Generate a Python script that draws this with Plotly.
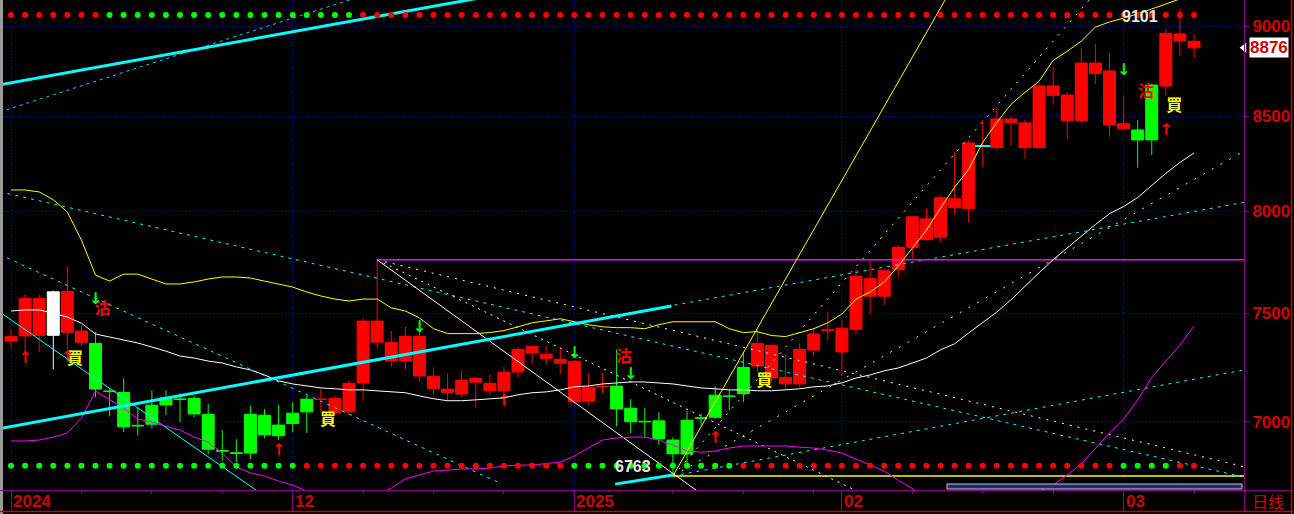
import math
import plotly.graph_objects as go

# ---------------- candles (daily) ----------------
IDX = list(range(85))
OPEN = [7368, 7392, 7395, 7395, 7409, 7362, 7357, 7138, 7131, 6984,
        7074, 7107, 7102, 7105, 7033, 6873, 6863, 7033, 7029, 6985,
        7038, 7101, 7099, 7040, 7044, 7174, 7363, 7275, 7275, 7206,
        7149, 7131, 7124, 7178, 7139, 7139, 7225, 7312, 7288, 7265,
        7089, 7092, 7157, 7160, 7060, 7002, 7004, 6919, 7007, 7017,
        7119, 7115, 7246, 7252, 7197, 7170, 7170, 7326, 7417, 7317,
        7423, 7581, 7581, 7710, 7820, 7858, 7870, 8019, 8014, 8338,
        8331, 8464, 8331, 8331, 8611, 8474, 8474, 8732, 8452, 8431,
        8425, 8669, 8664, 8915, 8876]
HIGH = [7423, 7589, 7589, 7608, 7726, 7438, 7410, 7151, 7196, 7065,
        7141, 7141, 7127, 7116, 7081, 6963, 6923, 7071, 7056, 7075,
        7089, 7116, 7146, 7116, 7187, 7475, 7758, 7415, 7436, 7428,
        7245, 7218, 7232, 7202, 7214, 7248, 7340, 7343, 7348, 7332,
        7280, 7219, 7219, 7329, 7101, 7060, 7043, 6932, 7047, 7036,
        7160, 7141, 7318, 7426, 7350, 7310, 7357, 7426, 7507, 7470,
        7710, 7754, 7715, 7830, 7980, 8014, 8080, 8310, 8368, 8479,
        8547, 8497, 8479, 8679, 8769, 8629, 8875, 8899, 8841, 8610,
        8479, 8675, 8981, 9101, 8954]
LOW = [7338, 7317, 7317, 7237, 7329, 7343, 7109, 7024, 6955, 6938,
       6971, 7031, 6999, 7020, 6857, 6829, 6823, 6836, 6927, 6920,
       6953, 6950, 7048, 7031, 7031, 7093, 7332, 7249, 7237, 7182,
       7124, 7091, 7112, 7064, 7120, 7080, 7199, 7260, 7260, 7214,
       7080, 7073, 7128, 6980, 6948, 6932, 6898, 6763, 6807, 6983,
       7011, 7052, 7088, 7225, 7176, 7149, 7155, 7296, 7372, 7206,
       7400, 7494, 7537, 7672, 7764, 7855, 7850, 7983, 7945, 8230,
       8315, 8341, 8273, 8326, 8560, 8377, 8461, 8675, 8389, 8425,
       8226, 8292, 8609, 8830, 8820]
CLOSE = [7390, 7570, 7570, 7602, 7603, 7415, 7147, 7136, 6977, 6982,
         6989, 7075, 7100, 7035, 6879, 6871, 6861, 6862, 6942, 6938,
         6992, 7044, 7101, 7105, 7173, 7462, 7462, 7362, 7390, 7390,
         7205, 7146, 7187, 7195, 7173, 7223, 7329, 7343, 7306, 7283,
         7274, 7155, 7159, 7057, 7000, 7000, 6924, 6859, 6858, 7016,
         7020, 7114, 7126, 7357, 7348, 7200, 7329, 7401, 7420, 7428,
         7677, 7666, 7705, 7820, 7973, 7963, 8070, 8065, 8356, 8342,
         8484, 8484, 8463, 8664, 8664, 8614, 8791, 8791, 8747, 8458,
         8372, 8372, 8958, 8955, 8913]
CANDLE_COLOR = ("RRRWRRGGGG" "GGGGGGGGGG" "GGRRRRRRRR" "RRRRRRRRRR" "RRRGGGGGGG"
                "GGGRRRRRRR" "RRRRRRRRRR" "RRRRRRRRRR" "GGRRR")
DOJI_MARK_IDX = [69]
DOJI_MARK_PRICE = [8340]

# ---------------- band indicator ----------------
BAND_UPPER = [8110, 8110, 8100, 8060, 7997, 7856, 7683, 7654, 7688, 7688,
              7664, 7640, 7640, 7650, 7664, 7674, 7674, 7669, 7654, 7640,
              7625, 7601, 7582, 7567, 7558, 7567, 7567, 7525, 7510, 7477,
              7426, 7403, 7403, 7403, 7408, 7417, 7435, 7454, 7463, 7473,
              7459, 7445, 7435, 7431, 7431, 7426, 7445, 7459, 7459, 7459,
              7459, 7426, 7408, 7412, 7394, 7389, 7408, 7426, 7454, 7496,
              7567, 7601, 7649, 7728, 7816, 7906, 8017, 8124, 8217, 8359,
              8466, 8563, 8629, 8690, 8806, 8857, 8914, 8994, 9023, 9046,
              9069, 9098, 9127, 9156, 9180]
BAND_MID = [7510, 7515, 7515, 7500, 7481, 7452, 7401, 7387, 7373, 7359,
            7340, 7321, 7298, 7289, 7275, 7266, 7248, 7234, 7211, 7184,
            7170, 7161, 7152, 7148, 7143, 7143, 7139, 7134, 7130, 7116,
            7103, 7094, 7094, 7098, 7103, 7107, 7121, 7130, 7134, 7143,
            7157, 7161, 7170, 7175, 7179, 7179, 7175, 7170, 7161, 7152,
            7148, 7143, 7143, 7139, 7139, 7143, 7148, 7157, 7161, 7175,
            7197, 7211, 7230, 7243, 7266, 7289, 7327, 7355, 7406, 7457,
            7505, 7563, 7631, 7695, 7759, 7818, 7873, 7934, 7989, 8025,
            8071, 8133, 8196, 8253, 8303]
BAND_LOWER = [6915, 6915, 6919, 6932, 6950, 7016, 7138, 7100, 7060, 7012,
              6998, 6980, 6963, 6932, 6910, 6862, 6801, 6776, 6763, 6741,
              6724, 6698, 6681, 6673, 6673, 6681, 6681, 6711, 6750, 6767,
              6784, 6788, 6793, 6793, 6797, 6806, 6810, 6810, 6815, 6823,
              6849, 6884, 6919, 6928, 6932, 6932, 6919, 6897, 6871, 6866,
              6871, 6884, 6893, 6893, 6893, 6893, 6888, 6884, 6875, 6862,
              6836, 6810, 6784, 6745, 6707, 6673, 6647, 6626, 6613, 6609,
              6617, 6634, 6668, 6698, 6724, 6767, 6815, 6880, 6950, 7011,
              7097, 7200, 7274, 7349, 7438]

# ---------------- signal rows ----------------
TOP_SIGNAL = ("RRRRRRRGGG" "GGGGGGGGGG" "GGGGGRRRRR" "RRRRRRRRRR" "RRRRRRRRRR"
              "RRRRRRRRRR" "RRRRRRRRRR" "RRRRRRRRRR" "RRRRR")
BOTTOM_SIGNAL = ("GGGGGGGGGG" "GGGGGGGGGG" "GRRRRRRRRR" "RRRRRRRRRR" "GGGGGGGGGG"
                 "GGRRRRRRRR" "RRRRRRRRRR" "RRRRRRRRRG" "GGGRR")
TOP_SIGNAL_LEVEL = 9063
BOTTOM_SIGNAL_LEVEL = 6807

BUY_X = [4.55, 22.5, 53.5, 82.6]
BUY_Y = [7279, 7002, 7177, 8549]
SELL_X = [6.5, 43.5, 80.6]
SELL_Y = [7517, 7288, 8625]
UP_X = [1, 4, 19, 35, 50, 82]
UP_Y = [7283, 7288, 6871, 7088, 6923, 8420]
DOWN_X = [6, 29, 40, 44, 79]
DOWN_Y = [7563, 7428, 7306, 7210, 8746]

# ---------------- drawn lines ----------------
CH_TOP_X, CH_TOP_Y = [-0.8, 36.1], [8670, 9204]
CH_MID_X, CH_MID_Y = [-0.8, 46.9], [6970, 7534]
CH_LOW_X, CH_LOW_Y = [42.9, 47.0], [6728, 6767]
CY_DOT_A_X, CY_DOT_A_Y = [-0.8, 24.8], [8522, 9170]
CY_THIN_X, CY_THIN_Y = [-0.8, 17.7], [7505, 6690]
CY_DOT_B_X, CY_DOT_B_Y = [-0.8, 34.7], [7784, 6733]
CY_DOT_C_X, CY_DOT_C_Y = [-0.8, 87.55], [8101, 6758]
CY_DOT_D_X, CY_DOT_D_Y = [47, 87.55], [6763, 7234]
CY_DOT_E_X, CY_DOT_E_Y = [43.2, 87.55], [7491, 8046]
HI_IDX, LO_IDX = 26, 47
WHITE_FAN_END_X = [50, 62, 87.55]
WHITE_FAN_END_Y = [6644, 6643, 6803]
YELLOW_FAN_END_X = [66.68, 77.5, 87.55]
YELLOW_FAN_END_Y = [9201, 9239, 8313]
LEVEL_END_X = 87.55

MONTH_TICK_IDX = [0, 20, 40, 59, 79]
MONTH_TICK_TEXT = ["2024", "12", "2025", "02", "03"]
WEEK_TICK_IDX = [5, 10, 15, 25, 30, 35, 47, 52, 57, 64, 69, 74, 84]
PRICE_TICKS = [7000, 7500, 8000, 8500, 9000]
HIGH_LABEL_IDX, LOW_LABEL_IDX = 83, 47
LAST_PRICE = 8876

X_RANGE = [-0.57, 87.55]
Y_RANGE = [6703, 9150]

RED = '#FF0000'
GREEN = '#00FF00'
AXIS_RED = '#D40000'
PURPLE = '#8A008A'
GRID = '#0000C0'
COLORS = {'R': RED, 'G': GREEN, 'W': '#FFFFFF'}

fig = go.Figure()


def text_trace(xs, ys, txt, color, size, family, weight='normal'):
    fig.add_trace(go.Scatter(x=xs, y=ys, mode='text', text=[txt] * len(xs),
                             textfont=dict(color=color, size=size, family=family, weight=weight),
                             hoverinfo='skip', showlegend=False))


# signals behind candles
text_trace(SELL_X, SELL_Y, '沽', RED, 16, 'Noto Sans CJK TC', 'bold')
text_trace(BUY_X, BUY_Y, '買', '#FFFF00', 16, 'Noto Sans CJK TC', 'bold')
text_trace(UP_X, UP_Y, '↑', RED, 16, 'DejaVu Sans', 'bold')
text_trace(DOWN_X, DOWN_Y, '↓', GREEN, 16, 'DejaVu Sans', 'bold')

# candles
for key in 'RGW':
    sel = [i for i in IDX if CANDLE_COLOR[i] == key]
    c = COLORS[key]
    fig.add_trace(go.Candlestick(
        x=sel, open=[OPEN[i] for i in sel], high=[HIGH[i] for i in sel],
        low=[LOW[i] for i in sel], close=[CLOSE[i] for i in sel],
        increasing=dict(line=dict(color=c, width=1), fillcolor=c),
        decreasing=dict(line=dict(color=c, width=1), fillcolor=c),
        whiskerwidth=0, hoverinfo='skip', showlegend=False))
fig.add_trace(go.Scatter(x=DOJI_MARK_IDX, y=DOJI_MARK_PRICE, mode='markers',
                         marker=dict(symbol='line-ew', size=11, line=dict(color='#00FFFF', width=2)),
                         hoverinfo='skip', showlegend=False))


def line(xs, ys, color, width=1, dash=None):
    fig.add_trace(go.Scatter(x=xs, y=ys, mode='lines',
                             line=dict(color=color, width=width, dash=dash),
                             hoverinfo='skip', showlegend=False))


# drawn objects
line(CY_DOT_A_X, CY_DOT_A_Y, '#00D8FF', 1, '3px,4px')
line(CY_THIN_X, CY_THIN_Y, '#00FFFF', 1)
line(CY_DOT_B_X, CY_DOT_B_Y, '#00FFFF', 1, '3px,5px')
line(CY_DOT_C_X, CY_DOT_C_Y, '#00FFFF', 1, '3px,5px')
line(CY_DOT_D_X, CY_DOT_D_Y, '#00FFFF', 1, '3px,5px')
line(CY_DOT_E_X, CY_DOT_E_Y, '#00FFFF', 1, '3px,5px')
fan_hi = HIGH[HI_IDX]
fan_lo = LOW[LO_IDX]
line([HI_IDX, WHITE_FAN_END_X[0]], [fan_hi, WHITE_FAN_END_Y[0]], '#FFFFFF', 1)
line([HI_IDX, WHITE_FAN_END_X[1]], [fan_hi, WHITE_FAN_END_Y[1]], '#FFFFFF', 1, '2px,5px')
line([HI_IDX, WHITE_FAN_END_X[2]], [fan_hi, WHITE_FAN_END_Y[2]], '#FFFFFF', 1, '2px,6px')
line([HI_IDX, LEVEL_END_X], [fan_hi, fan_hi], '#FF00FF', 1.5)
line([LO_IDX, YELLOW_FAN_END_X[0]], [fan_lo, YELLOW_FAN_END_Y[0]], '#FFFF00', 1)
line([LO_IDX, YELLOW_FAN_END_X[1]], [fan_lo, YELLOW_FAN_END_Y[1]], '#FFFF00', 1, '2px,7px')
line([LO_IDX, YELLOW_FAN_END_X[2]], [fan_lo, YELLOW_FAN_END_Y[2]], '#FFFF00', 1, '2px,8px')
line([LO_IDX, LEVEL_END_X], [fan_lo, fan_lo], '#FFFF00', 1.5)

# band indicator
line(IDX, BAND_UPPER, '#FFFF00', 1)
line(IDX, BAND_MID, '#FFFFFF', 1)
line(IDX, BAND_LOWER, '#FF00FF', 1)

# channel (thick)
line(CH_TOP_X, CH_TOP_Y, '#00FFFF', 3)
line(CH_MID_X, CH_MID_Y, '#00FFFF', 3)
line(CH_LOW_X, CH_LOW_Y, '#00FFFF', 3)

# signal rows
for row, level in ((TOP_SIGNAL, TOP_SIGNAL_LEVEL), (BOTTOM_SIGNAL, BOTTOM_SIGNAL_LEVEL)):
    fig.add_trace(go.Scatter(x=IDX, y=[level] * len(IDX), mode='markers',
                             marker=dict(size=6, color=[COLORS[k] for k in row], line=dict(width=0)),
                             hoverinfo='skip', showlegend=False))

# last price pointer
fig.add_trace(go.Scatter(x=[X_RANGE[1]], y=[LAST_PRICE], mode='markers', cliponaxis=False,
                         marker=dict(symbol='triangle-left', size=9, color='white'),
                         hoverinfo='skip', showlegend=False))

fig.update_layout(
    template='none',
    width=1294, height=514,
    margin=dict(l=3, r=50, t=0, b=24, pad=0),
    paper_bgcolor='black', plot_bgcolor='black',
    showlegend=False, hovermode=False,
    boxgap=0.15, boxgroupgap=0,
    xaxis=dict(range=X_RANGE, showline=True, linecolor=PURPLE, linewidth=1,
               ticks='outside', tickmode='array', tickvals=MONTH_TICK_IDX, ticklen=21,
               tickcolor=PURPLE, tickwidth=1, showticklabels=False,
               showgrid=True, gridcolor=GRID, griddash='1px,2px', gridwidth=1,
               zeroline=False, automargin=False,
               minor=dict(tickmode='array', tickvals=WEEK_TICK_IDX, ticks='outside', ticklen=3,
                          tickcolor=PURPLE, showgrid=False),
               rangeslider=dict(visible=False)),
    yaxis=dict(type='log', range=[math.log10(Y_RANGE[0]), math.log10(Y_RANGE[1])],
               side='right', showline=True, linecolor=PURPLE, linewidth=1,
               ticks='outside', ticklen=4, tickcolor=PURPLE,
               tickmode='array', tickvals=PRICE_TICKS, ticktext=[str(v) for v in PRICE_TICKS],
               tickfont=dict(color=AXIS_RED, size=17, family='Liberation Sans', weight='bold'),
               showgrid=True, gridcolor=GRID, griddash='1px,2px', gridwidth=1,
               zeroline=False, automargin=False),
)

for xi, txt in zip(MONTH_TICK_IDX, MONTH_TICK_TEXT):
    fig.add_annotation(x=xi, xref='x', y=0, yref='paper', xanchor='left', yanchor='top',
                       xshift=1, yshift=-1, text=txt, showarrow=False, borderpad=0,
                       font=dict(color=AXIS_RED, size=17, family='Liberation Sans', weight='bold'))

num_font = dict(color='#E8E8E8', size=16, family='Liberation Sans', weight='bold')
fig.add_annotation(x=HIGH_LABEL_IDX, y=math.log10(HIGH[HIGH_LABEL_IDX]), xref='x', yref='y',
                   xanchor='right', yanchor='top', xshift=-21, yshift=1,
                   text=str(HIGH[HIGH_LABEL_IDX]), showarrow=False, borderpad=0, font=num_font)
fig.add_annotation(x=LOW_LABEL_IDX, y=math.log10(LOW[LOW_LABEL_IDX]), xref='x', yref='y',
                   xanchor='right', yanchor='bottom', xshift=-21, yshift=0,
                   text=str(LOW[LOW_LABEL_IDX]), showarrow=False, borderpad=0, font=num_font)
fig.add_annotation(xref='paper', x=1, xanchor='left', xshift=5, yref='y', y=math.log10(LAST_PRICE),
                   yanchor='middle', text=str(LAST_PRICE), showarrow=False, bgcolor='white', borderpad=0,
                   font=dict(color=AXIS_RED, size=17, family='Liberation Sans', weight='bold'))
fig.add_annotation(xref='paper', x=1.0193, y=-0.0224, yref='paper', xanchor='center', yanchor='middle',
                   text='日线', showarrow=False, font=dict(color='#D00000', size=16, family='Noto Sans CJK SC'))

# frame chrome
PW, PH = 1241.0, 490.0
def px(xp):
    return (xp - 3) / PW
def py(yp):
    return (PH - yp) / PH

fig.add_shape(type='rect', xref='paper', yref='paper', x0=px(0), x1=px(3), y0=py(514), y1=py(0),
              fillcolor='#9A9A9A', line=dict(width=0))
fig.add_shape(type='line', xref='paper', yref='paper', x0=px(0), x1=px(1292), y0=py(490.5), y1=py(490.5),
              line=dict(color=PURPLE, width=1))
fig.add_shape(type='line', xref='paper', yref='paper', x0=px(1244.5), x1=px(1244.5), y0=py(490), y1=py(511),
              line=dict(color=PURPLE, width=1))
fig.add_shape(type='line', xref='paper', yref='paper', x0=px(0), x1=px(1294), y0=py(511.5), y1=py(511.5),
              line=dict(color='#CC0000', width=1.5))
fig.add_shape(type='line', xref='paper', yref='paper', x0=px(1291.5), x1=px(1291.5), y0=py(514), y1=py(0),
              line=dict(color='#CC0000', width=1.5))
fig.add_shape(type='rect', xref='paper', yref='paper', x0=px(947), x1=px(1242), y0=py(489), y1=py(484),
              fillcolor='#1C2C6C', line=dict(color='#C8C8C8', width=1))

fig.write_html("out.html", config={'displayModeBar': False},
               post_script="document.body.style.margin='0';document.body.style.background='black';")
